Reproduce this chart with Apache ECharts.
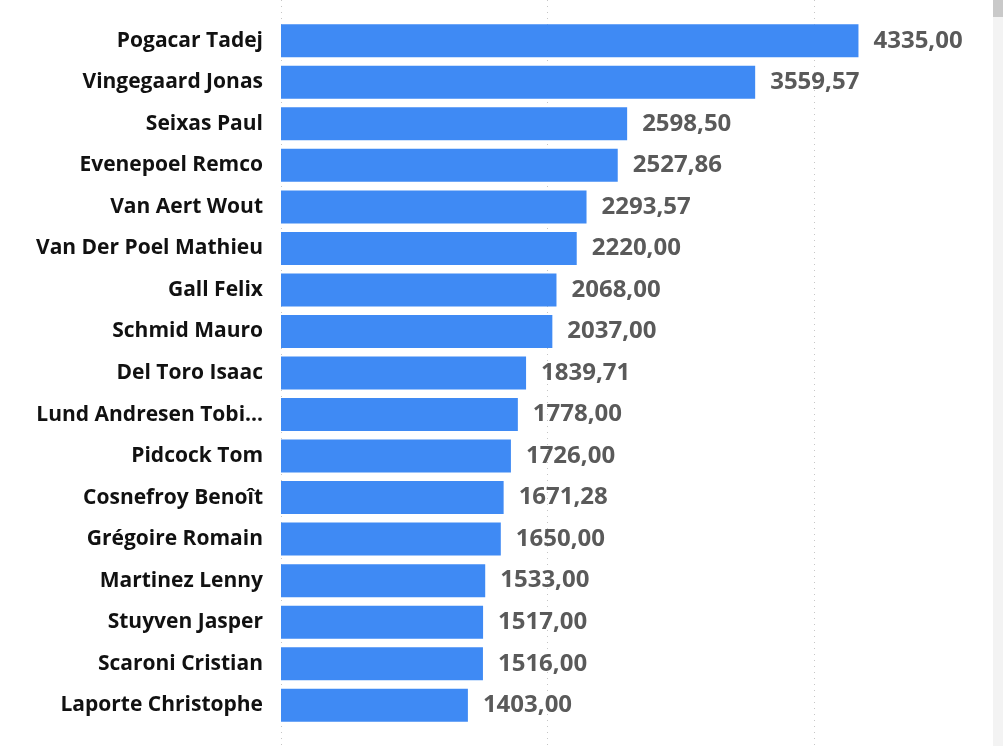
<!DOCTYPE html>
<html>
<head>
<meta charset="utf-8">
<script src="https://cdn.jsdelivr.net/npm/echarts@6/dist/echarts.min.js"></script>
<style>
  html, body { margin: 0; padding: 0; background: #fff; }
  #chart { width: 1003px; height: 746px; }
</style>
</head>
<body>
<div id="chart"></div>
<script>
const riders = [
  'Pogacar Tadej', 'Vingegaard Jonas', 'Seixas Paul', 'Evenepoel Remco',
  'Van Aert Wout', 'Van Der Poel Mathieu', 'Gall Felix', 'Schmid Mauro',
  'Del Toro Isaac', 'Lund Andresen Tobi...', 'Pidcock Tom', 'Cosnefroy Benoît',
  'Grégoire Romain', 'Martinez Lenny', 'Stuyven Jasper', 'Scaroni Cristian',
  'Laporte Christophe'
];
const points = [
  4335.00, 3559.57, 2598.50, 2527.86, 2293.57, 2220.00, 2068.00, 2037.00,
  1839.71, 1778.00, 1726.00, 1671.28, 1650.00, 1533.00, 1517.00, 1516.00,
  1403.00
];
// axis runs past the visible edge; the view is cut at about 5420
const xMax = 5420;
const xStep = 2000;

const FONT = '"Open Sans", "Noto Sans", sans-serif';
const gridLeft = 281;

const myChart = echarts.init(document.getElementById('chart'));

const option = {
  animation: false,
  backgroundColor: '#ffffff',
  grid: [
    { left: gridLeft, right: 0, top: 20, bottom: 20, containLabel: false },
    { left: gridLeft, right: 0, top: 0, bottom: 0, containLabel: false }
  ],
  xAxis: [
    {
      gridIndex: 0, type: 'value', min: 0, max: xMax, interval: xStep,
      axisLabel: { show: false }, axisLine: { show: false }, axisTick: { show: false },
      splitLine: { show: false }
    },
    {
      gridIndex: 1, type: 'value', min: 0, max: xMax, interval: xStep,
      axisLabel: { show: false }, axisLine: { show: false }, axisTick: { show: false },
      splitLine: { show: true, lineStyle: { color: '#c6c6c6', width: 1, type: [1, 5] } }
    }
  ],
  yAxis: [
    {
      gridIndex: 0, type: 'category', inverse: true, data: riders,
      axisLine: { show: false }, axisTick: { show: false },
      axisLabel: {
        margin: 18, color: '#111111', fontFamily: FONT, fontWeight: 'bold', fontSize: 21
      }
    },
    {
      gridIndex: 1, type: 'value', min: 0, max: 1,
      show: false
    }
  ],
  series: [{
    type: 'bar',
    xAxisIndex: 0,
    yAxisIndex: 0,
    data: points,
    barWidth: 33,
    itemStyle: { color: '#3f8af4' },
    z: 3,
    label: {
      show: true,
      position: 'right',
      distance: 15,
      color: '#5a5a5a',
      fontFamily: FONT,
      fontWeight: 'bold',
      fontSize: 24,
      formatter: p => p.value.toFixed(2).replace('.', ',')
    }
  }],
  graphic: [
    { type: 'rect', right: 0, top: 0, z: 10, shape: { width: 10, height: 746 }, style: { fill: '#f3f3f3' } },
    { type: 'rect', right: 0, top: 0, z: 11, shape: { width: 10, height: 17 }, style: { fill: '#c9c9c9' } }
  ]
};
myChart.setOption(option);
</script>
</body>
</html>
